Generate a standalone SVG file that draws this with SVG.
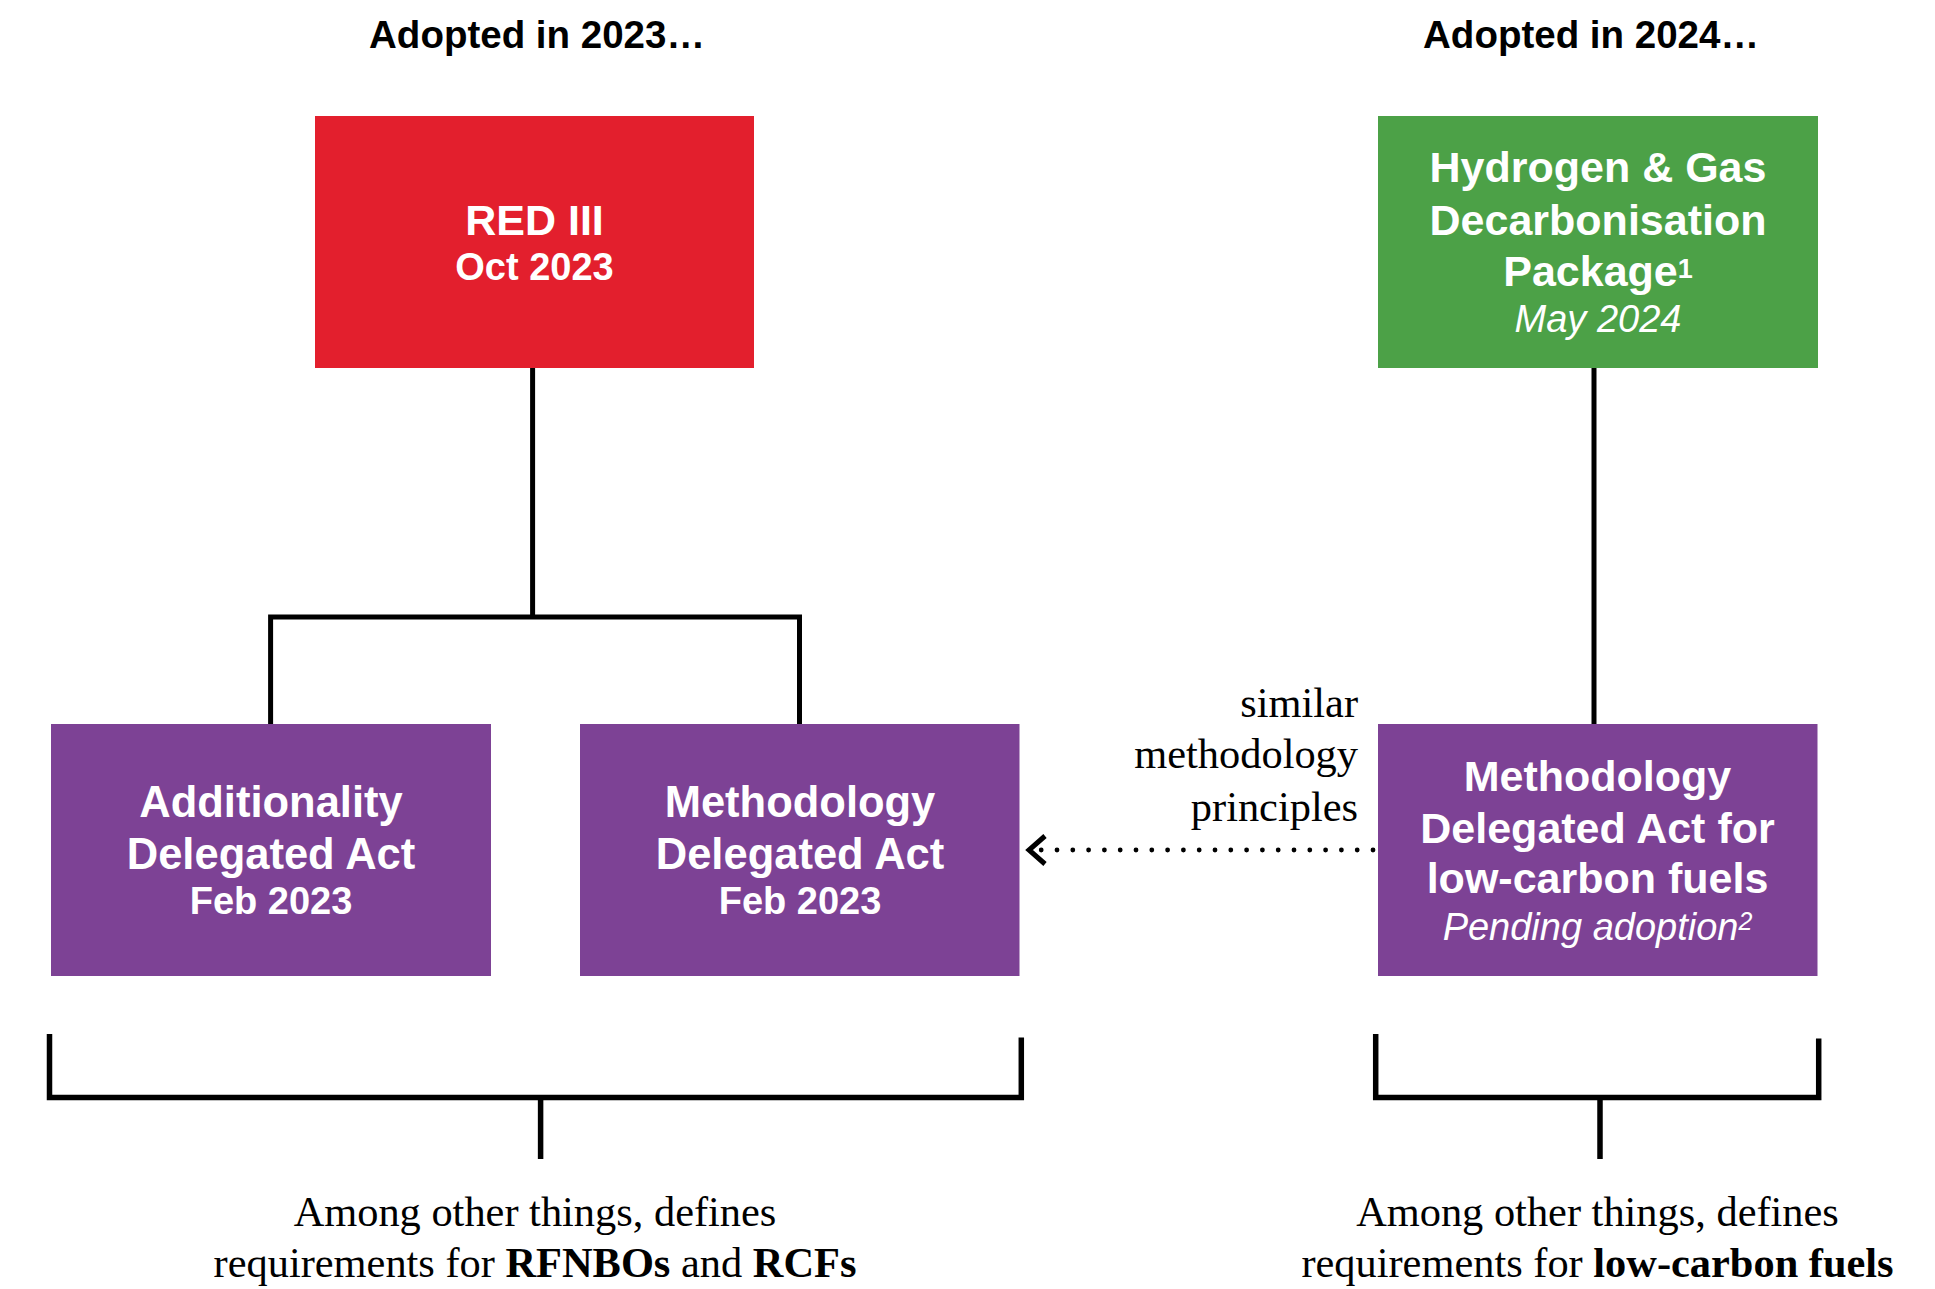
<svg xmlns="http://www.w3.org/2000/svg" width="1935" height="1289" viewBox="0 0 1935 1289">
<style>
.bg{fill:#ffffff}
.red{fill:#E31F2D}
.green{fill:#4CA147}
.purple{fill:#7D4295}
.t{font-family:"Liberation Sans",Arial,sans-serif;font-weight:bold;fill:#ffffff;text-anchor:middle}
.t42{font-size:43.5px}
.t38{font-size:38px}
.it{font-weight:normal;font-style:italic}
.head{font-family:"Liberation Sans",Arial,sans-serif;font-weight:bold;font-size:38.5px;fill:#000;text-anchor:middle}
.ser{font-family:"Liberation Serif","Times New Roman",serif;font-size:42.4px;fill:#000}
.ln{fill:none;stroke:#000;stroke-width:5;stroke-linejoin:miter;stroke-linecap:butt}
.br{fill:none;stroke:#000;stroke-width:5.5;stroke-linejoin:miter;stroke-linecap:butt}
.dot{fill:none;stroke:#000;stroke-width:4.8;stroke-linecap:round;stroke-dasharray:0 15.8}
</style>
<rect class="bg" x="0" y="0" width="1935" height="1289"/>

<g id="headings">
<text class="head" x="537" y="48">Adopted in 2023…</text>
<text class="head" x="1591" y="48">Adopted in 2024…</text>
</g>

<g id="connectors">
<path class="ln" d="M532.6 368 V617"/>
<path class="ln" d="M270.6 724 V617 H799.5 V724"/>
<path class="ln" d="M1594 368 V724"/>
<path class="dot" d="M1373 850 H1040"/>
<polyline class="ln" points="1045,836 1029,850 1045,864"/>
<path class="br" d="M49.5 1034 V1097.5 H1021.3 V1037.5"/>
<path class="br" d="M540.6 1097.5 V1159"/>
<path class="br" d="M1375.7 1034 V1097.5 H1818.7 V1038.5"/>
<path class="br" d="M1600 1097.5 V1159"/>
</g>

<g id="red3">
<rect class="red" x="315" y="116" width="439" height="252"/>
<text class="t" x="534.5" y="235" font-size="43">RED III</text>
<text class="t t38" x="534.5" y="280">Oct 2023</text>
</g>

<g id="hgdp">
<rect class="green" x="1378" y="116" width="440" height="252"/>
<text class="t" x="1598" y="182" font-size="43">Hydrogen &amp; Gas</text>
<text class="t" x="1598" y="235" font-size="43">Decarbonisation</text>
<text class="t" x="1598" y="286" font-size="43">Package<tspan font-size="27" dy="-8">1</tspan></text>
<text class="t t38 it" x="1598" y="331.5">May 2024</text>
</g>

<g id="additionality">
<rect class="purple" x="51" y="724" width="440" height="252"/>
<text class="t t42" x="271" y="817">Additionality</text>
<text class="t t42" x="271" y="868.5">Delegated Act</text>
<text class="t t38" x="271" y="914">Feb 2023</text>
</g>

<g id="methodology">
<rect class="purple" x="580" y="724" width="439.5" height="252"/>
<text class="t t42" x="800" y="817">Methodology</text>
<text class="t t42" x="800" y="868.5">Delegated Act</text>
<text class="t t38" x="800" y="914">Feb 2023</text>
</g>

<g id="lowcarbon">
<rect class="purple" x="1378" y="724" width="439.5" height="252"/>
<text class="t" x="1597.5" y="791" font-size="43">Methodology</text>
<text class="t" x="1597.5" y="843" font-size="43">Delegated Act for</text>
<text class="t" x="1597.5" y="893" font-size="43">low-carbon fuels</text>
<text class="t t38 it" x="1597.5" y="940">Pending adoption<tspan font-size="25" dy="-10">2</tspan></text>
</g>

<g id="similar-label">
<text class="ser" x="1358" y="716.6" text-anchor="end">similar</text>
<text class="ser" x="1358" y="768" text-anchor="end">methodology</text>
<text class="ser" x="1358" y="821" text-anchor="end">principles</text>
</g>

<g id="note-left">
<text class="ser" x="535" y="1226" text-anchor="middle">Among other things, defines</text>
<text class="ser" x="535" y="1277" text-anchor="middle">requirements for <tspan font-weight="bold">RFNBOs</tspan> and <tspan font-weight="bold">RCFs</tspan></text>
</g>

<g id="note-right">
<text class="ser" x="1597.5" y="1226" text-anchor="middle">Among other things, defines</text>
<text class="ser" x="1597.5" y="1277" text-anchor="middle">requirements for <tspan font-weight="bold">low-carbon fuels</tspan></text>
</g>
</svg>
